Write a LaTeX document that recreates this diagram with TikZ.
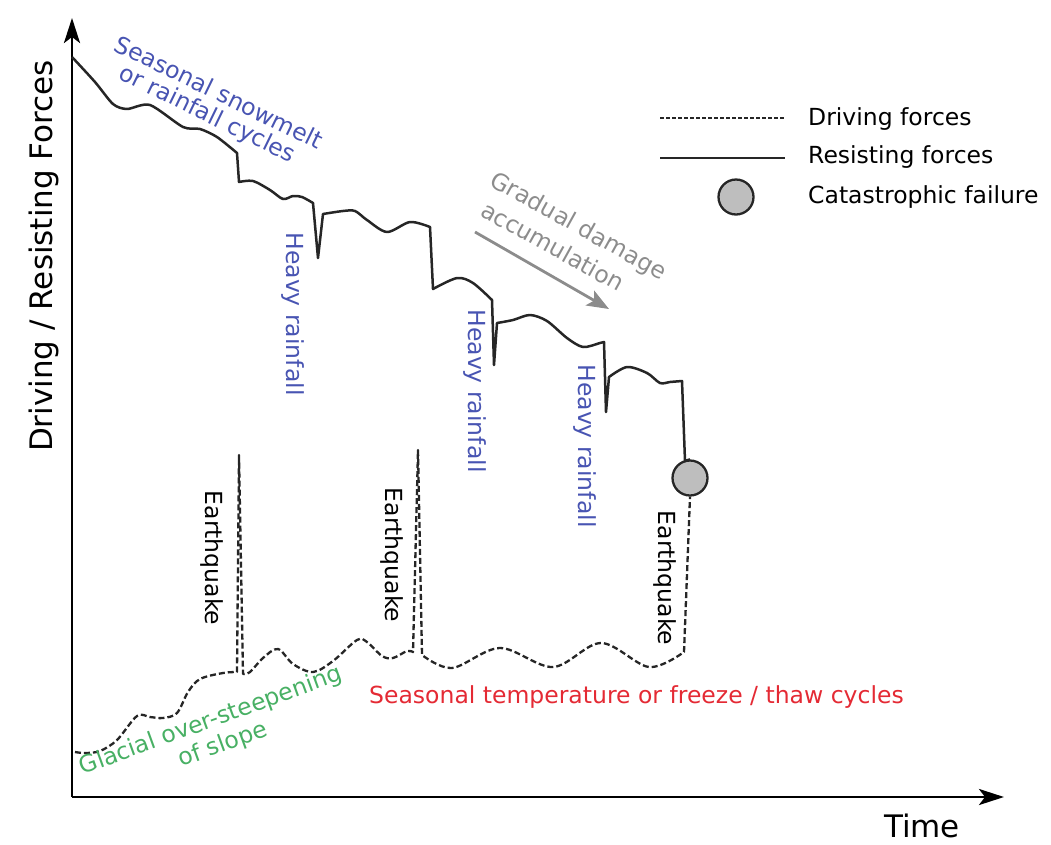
\documentclass[tikz,border=0pt]{standalone}
\usepackage{fontspec}
\setmainfont{DejaVu Sans}
\usetikzlibrary{arrows.meta}
\definecolor{rainblue}{RGB}{72,84,178}
\definecolor{thawred}{RGB}{228,42,52}
\definecolor{glacgreen}{RGB}{72,176,100}
\definecolor{dmggray}{RGB}{140,140,140}
\definecolor{failfill}{RGB}{190,190,190}
\tikzset{
  lbl/.style={font=\fontsize{23.5}{27}\selectfont, inner sep=0pt},
  axlbl/.style={font=\fontsize{31}{35}\selectfont, inner sep=0pt},
  axis/.style={line width=2.8pt, -{Stealth[length=25pt,width=16pt,inset=6pt]}},
  resist/.style={line width=2.5pt, black!85, line join=round},
  drive/.style={line width=2.3pt, black!85, dash pattern=on 6pt off 3pt, line join=round},
  failure/.style={circle, draw=black!85, line width=2.3pt, fill=failfill, minimum size=35pt, inner sep=0pt},
}
\begin{document}
\begin{tikzpicture}[x=1pt,y=-1pt]
\useasboundingbox (0,0) rectangle (1051,844);
% axes
\coordinate (O) at (72,797);
\coordinate (ytop) at (72,18);
\coordinate (xend) at (1004,797);
\draw[axis] (O) -- (ytop);
\draw[axis] (O) -- (xend);
\node[axlbl, rotate=90] (ylab) at (44,256) {Driving / Resisting Forces};
\node[axlbl] (tlab) at (922,826) {Time};

% failure point
\node[failure] (fail) at (690,478) {};

% resisting forces (solid)
\draw[resist]
  plot[smooth, tension=0.45] coordinates {(72,57) (95,82) (113,104) (127,109) (150,105) (183,127) (200,129) (217,137) (237,153)}
  -- (239,182)
  -- plot[smooth, tension=0.5] coordinates {(239,182) (253,181) (270,190) (283,199) (293,196) (302,197) (313,203)}
  -- (318,258) -- (323,214)
  -- plot[smooth, tension=0.5] coordinates {(323,214) (343,211) (355,211) (367,220) (387,232) (410,222) (430,227)}
  -- (433,289)
  -- plot[smooth, tension=0.5] coordinates {(433,289) (457,278) (473,283) (492,300)}
  -- (494,365) -- (497,323)
  -- plot[smooth, tension=0.5] coordinates {(497,323) (513,320) (530,315) (547,321) (567,338) (583,347) (600,343) (604,342)}
  -- (606,412) -- (609,377)
  -- plot[smooth, tension=0.5] coordinates {(609,377) (627,367) (647,373) (660,383) (670,382) (682,381)}
  -- (685,461) -- (fail.north);

% driving forces (dashed)
\draw[drive]
  plot[smooth, tension=0.55] coordinates {(75,752) (85,753) (100,751) (117,740) (137,716) (150,717) (163,718) (177,713) (188,692) (200,679) (223,673) (237,672)}
  -- (239,455) -- (243,674)
  -- plot[smooth, tension=0.55] coordinates {(243,674) (250,672) (263,658) (278,649) (293,664) (313,672) (333,661) (357,640) (367,642) (382,656) (393,658) (407,651) (413,652)}
  -- (418,450) -- (422,655)
  -- plot[smooth, tension=0.55] coordinates {(422,655) (452,668) (500,648) (553,667) (601,643) (649,667) (684,652)}
  -- (fail.south);

% annotations
\node[lbl, text=rainblue, rotate=-26] (snow1) at (219,92) {Seasonal snowmelt};
\node[lbl, text=rainblue, rotate=-26] (snow2) at (207,115) {or rainfall cycles};
\node[lbl, text=rainblue, rotate=-90] (rain1) at (293,314) {Heavy rainfall};
\node[lbl, text=rainblue, rotate=-90] (rain2) at (475,391) {Heavy rainfall};
\node[lbl, text=rainblue, rotate=-90] (rain3) at (585,446) {Heavy rainfall};
\node[lbl, rotate=-90] (eq1) at (212,558) {Earthquake};
\node[lbl, rotate=-90] (eq2) at (392,555) {Earthquake};
\node[lbl, rotate=-90] (eq3) at (665,578) {Earthquake};
\node[lbl, text=dmggray, rotate=-29] (dmg1) at (578,227) {Gradual damage};
\node[lbl, text=dmggray, rotate=-29] (dmg2) at (553,246) {accumulation};
\coordinate (dmgA) at (475,232);
\coordinate (dmgB) at (609,309);
\draw[line width=2.8pt, dmggray, -{Stealth[length=22pt,width=17pt,inset=5pt]}] (dmgA) -- (dmgB);
\node[lbl, text=glacgreen, rotate=20] (glac1) at (211,721) {Glacial over-steepening};
\node[lbl, text=glacgreen, rotate=20] (glac2) at (223,745) {of slope};
\node[lbl, text=thawred, anchor=west] (thaw) at (369,697) {Seasonal temperature or freeze / thaw cycles};

% legend
\coordinate (l1a) at (660,118); \coordinate (l1b) at (785,118);
\coordinate (l2a) at (660,158); \coordinate (l2b) at (785,158);
\draw[drive, line width=1.8pt, dash pattern=on 4pt off 2pt] (l1a) -- (l1b);
\draw[resist] (l2a) -- (l2b);
\node[failure] (legfail) at (736,197) {};
\node[lbl, anchor=west] (legD) at (808,119) {Driving forces};
\node[lbl, anchor=west] (legR) at (808,157) {Resisting forces};
\node[lbl, anchor=west] (legC) at (808,197) {Catastrophic failure};
\end{tikzpicture}
\end{document}
